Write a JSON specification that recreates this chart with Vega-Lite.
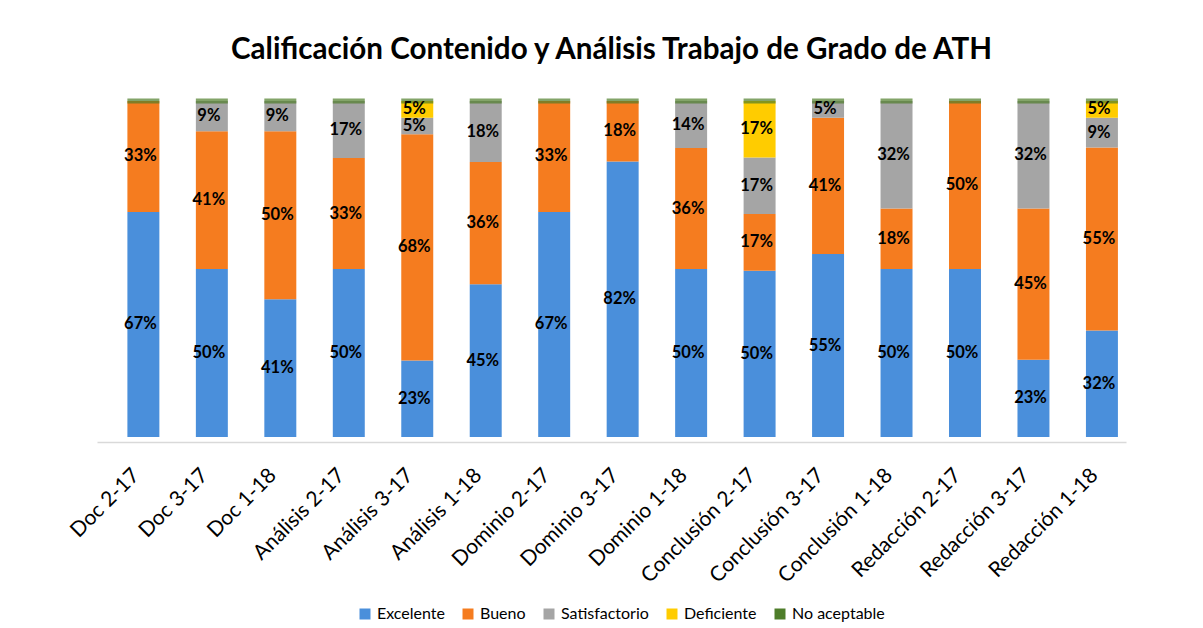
{
  "$schema": "https://vega.github.io/schema/vega-lite/v6.json",
  "width": 1029,
  "height": 336,
  "autosize": {"type": "none"},
  "padding": {"left": 97, "top": 101, "right": 77, "bottom": 191},
  "background": "white",
  "title": {"text": "Calificación Contenido y Análisis Trabajo de Grado de ATH", "font": "Lato", "fontSize": 29.6, "fontWeight": "bold", "color": "black", "anchor": "middle", "offset": 33},
  "config": {"view": {"stroke": null}},
  "data": {"values": [
    {"cat": "Doc 2-17", "nivel": "Excelente", "p": 0.67},
    {"cat": "Doc 2-17", "nivel": "Bueno", "p": 0.33},
    {"cat": "Doc 2-17", "nivel": "Satisfactorio", "p": 0},
    {"cat": "Doc 2-17", "nivel": "Deficiente", "p": 0},
    {"cat": "Doc 2-17", "nivel": "No aceptable", "p": 0},
    {"cat": "Doc 3-17", "nivel": "Excelente", "p": 0.50},
    {"cat": "Doc 3-17", "nivel": "Bueno", "p": 0.41},
    {"cat": "Doc 3-17", "nivel": "Satisfactorio", "p": 0.09},
    {"cat": "Doc 3-17", "nivel": "Deficiente", "p": 0},
    {"cat": "Doc 3-17", "nivel": "No aceptable", "p": 0},
    {"cat": "Doc 1-18", "nivel": "Excelente", "p": 0.41},
    {"cat": "Doc 1-18", "nivel": "Bueno", "p": 0.50},
    {"cat": "Doc 1-18", "nivel": "Satisfactorio", "p": 0.09},
    {"cat": "Doc 1-18", "nivel": "Deficiente", "p": 0},
    {"cat": "Doc 1-18", "nivel": "No aceptable", "p": 0},
    {"cat": "Análisis 2-17", "nivel": "Excelente", "p": 0.50},
    {"cat": "Análisis 2-17", "nivel": "Bueno", "p": 0.33},
    {"cat": "Análisis 2-17", "nivel": "Satisfactorio", "p": 0.17},
    {"cat": "Análisis 2-17", "nivel": "Deficiente", "p": 0},
    {"cat": "Análisis 2-17", "nivel": "No aceptable", "p": 0},
    {"cat": "Análisis 3-17", "nivel": "Excelente", "p": 0.23},
    {"cat": "Análisis 3-17", "nivel": "Bueno", "p": 0.68},
    {"cat": "Análisis 3-17", "nivel": "Satisfactorio", "p": 0.05},
    {"cat": "Análisis 3-17", "nivel": "Deficiente", "p": 0.05},
    {"cat": "Análisis 3-17", "nivel": "No aceptable", "p": 0},
    {"cat": "Análisis 1-18", "nivel": "Excelente", "p": 0.45},
    {"cat": "Análisis 1-18", "nivel": "Bueno", "p": 0.36},
    {"cat": "Análisis 1-18", "nivel": "Satisfactorio", "p": 0.18},
    {"cat": "Análisis 1-18", "nivel": "Deficiente", "p": 0},
    {"cat": "Análisis 1-18", "nivel": "No aceptable", "p": 0},
    {"cat": "Dominio 2-17", "nivel": "Excelente", "p": 0.67},
    {"cat": "Dominio 2-17", "nivel": "Bueno", "p": 0.33},
    {"cat": "Dominio 2-17", "nivel": "Satisfactorio", "p": 0},
    {"cat": "Dominio 2-17", "nivel": "Deficiente", "p": 0},
    {"cat": "Dominio 2-17", "nivel": "No aceptable", "p": 0},
    {"cat": "Dominio 3-17", "nivel": "Excelente", "p": 0.82},
    {"cat": "Dominio 3-17", "nivel": "Bueno", "p": 0.18},
    {"cat": "Dominio 3-17", "nivel": "Satisfactorio", "p": 0},
    {"cat": "Dominio 3-17", "nivel": "Deficiente", "p": 0},
    {"cat": "Dominio 3-17", "nivel": "No aceptable", "p": 0},
    {"cat": "Dominio 1-18", "nivel": "Excelente", "p": 0.50},
    {"cat": "Dominio 1-18", "nivel": "Bueno", "p": 0.36},
    {"cat": "Dominio 1-18", "nivel": "Satisfactorio", "p": 0.14},
    {"cat": "Dominio 1-18", "nivel": "Deficiente", "p": 0},
    {"cat": "Dominio 1-18", "nivel": "No aceptable", "p": 0},
    {"cat": "Conclusión 2-17", "nivel": "Excelente", "p": 0.50},
    {"cat": "Conclusión 2-17", "nivel": "Bueno", "p": 0.17},
    {"cat": "Conclusión 2-17", "nivel": "Satisfactorio", "p": 0.17},
    {"cat": "Conclusión 2-17", "nivel": "Deficiente", "p": 0.17},
    {"cat": "Conclusión 2-17", "nivel": "No aceptable", "p": 0},
    {"cat": "Conclusión 3-17", "nivel": "Excelente", "p": 0.55},
    {"cat": "Conclusión 3-17", "nivel": "Bueno", "p": 0.41},
    {"cat": "Conclusión 3-17", "nivel": "Satisfactorio", "p": 0.05},
    {"cat": "Conclusión 3-17", "nivel": "Deficiente", "p": 0},
    {"cat": "Conclusión 3-17", "nivel": "No aceptable", "p": 0},
    {"cat": "Conclusión 1-18", "nivel": "Excelente", "p": 0.50},
    {"cat": "Conclusión 1-18", "nivel": "Bueno", "p": 0.18},
    {"cat": "Conclusión 1-18", "nivel": "Satisfactorio", "p": 0.32},
    {"cat": "Conclusión 1-18", "nivel": "Deficiente", "p": 0},
    {"cat": "Conclusión 1-18", "nivel": "No aceptable", "p": 0},
    {"cat": "Redacción 2-17", "nivel": "Excelente", "p": 0.50},
    {"cat": "Redacción 2-17", "nivel": "Bueno", "p": 0.50},
    {"cat": "Redacción 2-17", "nivel": "Satisfactorio", "p": 0},
    {"cat": "Redacción 2-17", "nivel": "Deficiente", "p": 0},
    {"cat": "Redacción 2-17", "nivel": "No aceptable", "p": 0},
    {"cat": "Redacción 3-17", "nivel": "Excelente", "p": 0.23},
    {"cat": "Redacción 3-17", "nivel": "Bueno", "p": 0.45},
    {"cat": "Redacción 3-17", "nivel": "Satisfactorio", "p": 0.32},
    {"cat": "Redacción 3-17", "nivel": "Deficiente", "p": 0},
    {"cat": "Redacción 3-17", "nivel": "No aceptable", "p": 0},
    {"cat": "Redacción 1-18", "nivel": "Excelente", "p": 0.32},
    {"cat": "Redacción 1-18", "nivel": "Bueno", "p": 0.55},
    {"cat": "Redacción 1-18", "nivel": "Satisfactorio", "p": 0.09},
    {"cat": "Redacción 1-18", "nivel": "Deficiente", "p": 0.05},
    {"cat": "Redacción 1-18", "nivel": "No aceptable", "p": 0}
  ]},
  "transform": [
    {"stack": "p", "groupby": ["cat"], "offset": "normalize", "as": ["y0", "y1"]}
  ],
  "encoding": {
    "x": {
      "field": "cat", "type": "nominal", "sort": null,
      "scale": {"paddingInner": 0.533, "paddingOuter": 0.281, "align": 0.79},
      "axis": {
        "title": null, "labelAngle": -45, "labelAlign": "right", "labelBaseline": "bottom",
        "labelPadding": 37, "ticks": false,
        "domainColor": "#D9D9D9", "domainWidth": 1.5, "offset": 5,
        "labelFont": "Lato", "labelFontSize": 21, "labelColor": "black"
      }
    }
  },
  "layer": [
    {
      "mark": {"type": "bar"},
      "encoding": {
        "y": {"field": "y0", "type": "quantitative", "scale": {"domain": [0, 1], "nice": false}, "axis": null},
        "y2": {"field": "y1"},
        "color": {
          "field": "nivel", "type": "nominal",
          "scale": {
            "domain": ["Excelente", "Bueno", "Satisfactorio", "Deficiente", "No aceptable"],
            "range": ["#4A8FDB", "#F57C1F", "#A5A5A5", "#FFCC00", "#4E7D2A"]
          },
          "legend": {
            "title": null, "orient": "none", "legendX": 260, "legendY": 505,
            "direction": "horizontal", "symbolType": "square", "symbolSize": 121,
            "labelFont": "Lato", "labelFontSize": 16, "labelColor": "black",
            "columnPadding": 15, "labelOffset": 4
          }
        }
      }
    },
    {
      "transform": [{"filter": "datum.nivel === 'No aceptable'"}],
      "mark": {"type": "tick", "thickness": 5, "size": 32, "color": "#4E7D2A"},
      "encoding": {
        "y": {"field": "y1", "type": "quantitative"}
      }
    },
    {
      "transform": [
        {"filter": "datum.p > 0"},
        {"fold": ["y0", "y1"], "as": ["k", "v"]}
      ],
      "mark": {"type": "text", "font": "Lato", "fontWeight": "bold", "fontSize": 16.5, "color": "black", "dx": -3},
      "encoding": {
        "y": {"aggregate": "mean", "field": "v", "type": "quantitative"},
        "detail": {"field": "nivel"},
        "text": {"field": "p", "type": "quantitative", "format": ".0%"}
      }
    }
  ]
}
